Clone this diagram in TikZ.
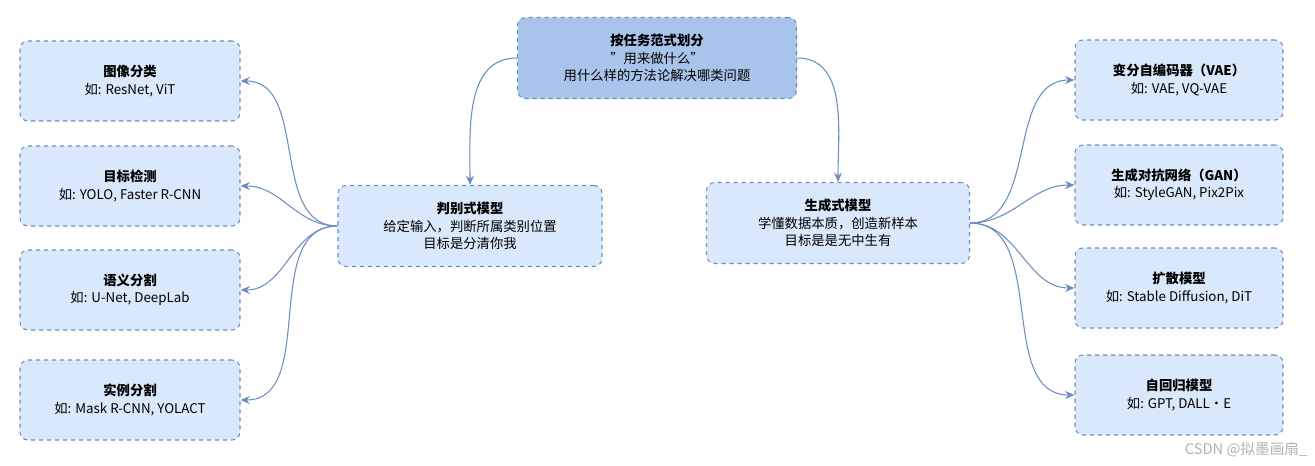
\documentclass[tikz,border=0pt]{standalone}
\usepackage{fontspec}
\setmainfont{Noto Sans CJK SC}
\usetikzlibrary{arrows.meta}
\definecolor{bd}{HTML}{6C8EBF}
\definecolor{lf}{HTML}{DAE8FC}
\definecolor{tf}{HTML}{A9C4EB}
\begin{document}
\begin{tikzpicture}[x=0.75pt,y=-0.75pt,
 box/.style={draw=bd,dashed,rounded corners=6pt,fill=lf,align=center,font=\fontsize{10}{13}\selectfont,inner sep=0pt,line width=0.8pt},
 conn/.style={draw=bd,line width=0.8pt,-{Stealth[length=7pt,width=6pt]}}]
\useasboundingbox (0,0) rectangle (1315,465);
\node[box,fill=tf,minimum width=279*0.75pt,minimum height=81*0.75pt] (top) at (657,58) {\textbf{按任务范式划分}\\"用来做什么"\\用什么样的方法论解决哪类问题};
\node[box,minimum width=264*0.75pt,minimum height=81*0.75pt] (disc) at (470,226) {\textbf{判别式模型}\\给定输入，判断所属类别位置\\目标是分清你我};
\node[box,minimum width=263*0.75pt,minimum height=81*0.75pt] (gen) at (838,223) {\textbf{生成式模型}\\学懂数据本质，创造新样本\\目标是是无中生有};
\tikzset{lb/.style={box,minimum width=220*0.75pt,minimum height=80*0.75pt},
 rb/.style={box,minimum width=208*0.75pt,minimum height=80*0.75pt}}
\node[lb] (l1) at (130,81) {\textbf{图像分类}\\如: ResNet, ViT};
\node[lb] (l2) at (130,186) {\textbf{目标检测}\\如: YOLO, Faster R-CNN};
\node[lb] (l3) at (130,290) {\textbf{语义分割}\\如: U-Net, DeepLab};
\node[lb] (l4) at (130,400) {\textbf{实例分割}\\如: Mask R-CNN, YOLACT};
\node[rb] (r1) at (1179,80) {\textbf{变分自编码器（VAE）}\\如: VAE, VQ-VAE};
\node[rb] (r2) at (1179,185) {\textbf{生成对抗网络（GAN）}\\如: StyleGAN, Pix2Pix};
\node[rb] (r3) at (1179,288) {\textbf{扩散模型}\\如: Stable Diffusion, DiT};
\node[rb] (r4) at (1179,395) {\textbf{自回归模型}\\如: GPT, DALL·E};
\draw[conn] (top.west) to[out=180,in=90] (disc.north);
\draw[conn] (top.east) to[out=0,in=90] (gen.north);
\foreach \n in {l1,l2,l3,l4} \draw[conn] (disc.west) to[out=180,in=0] (\n.east);
\foreach \n in {r1,r2,r3,r4} \draw[conn] (gen.east) to[out=0,in=180] (\n.west);
\node[text=gray!60,font=\fontsize{11}{13}\selectfont,anchor=south east] (wm) at (1312,462) {CSDN @拟墨画扇\_};
\end{tikzpicture}
\end{document}
